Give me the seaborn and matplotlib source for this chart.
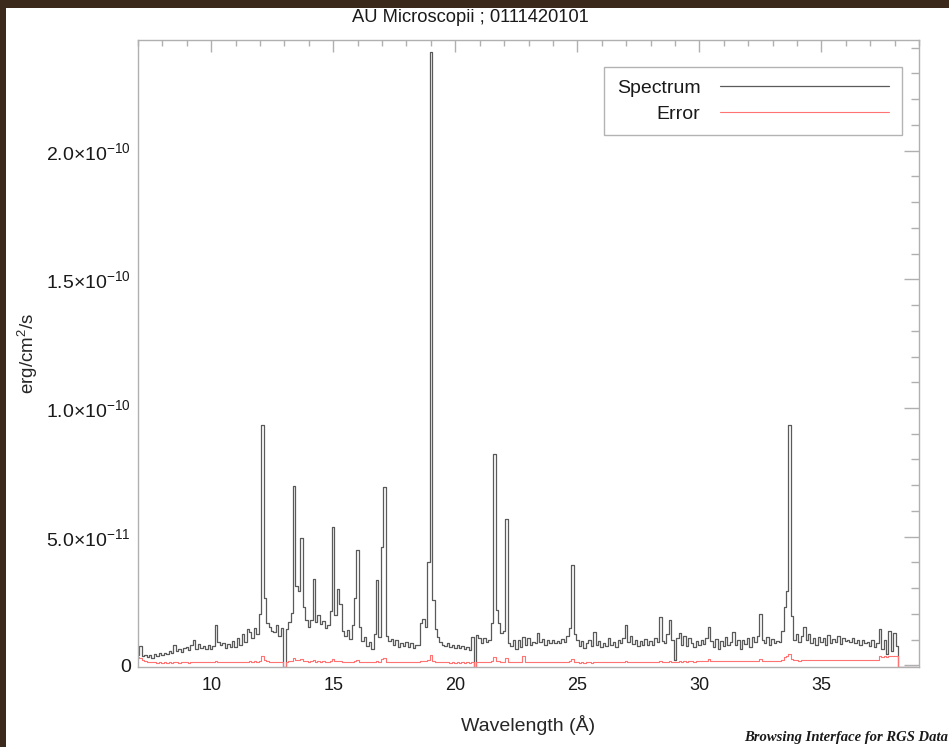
import numpy as np
import pandas as pd
import seaborn as sns
import matplotlib.pyplot as plt
from matplotlib.patches import Rectangle
from matplotlib.ticker import MultipleLocator, FuncFormatter

# RGS fluxed spectrum, 0.1 A bins starting at 7.0 A, units of 1e-12 erg/cm2/s
wave_start = 7.0
bin_width = 0.1
spectrum = [
    4.0, 7.5, 3.5, 4.2, 3.2, 4.0, 3.0, 4.4, 3.6, 4.8,        # 7
    4.0, 4.6, 4.3, 5.5, 4.8, 7.8, 5.6, 6.5, 5.0, 6.8,        # 8
    7.2, 5.8, 8.0, 9.8, 6.5, 8.2, 6.6, 7.6, 6.2, 7.8,        # 9
    6.4, 7.5, 15.5, 9.0, 7.8, 8.8, 6.6, 8.2, 7.0, 9.4,       # 10
    7.2, 10.8, 8.0, 12.2, 9.2, 14.0, 13.0, 10.6, 14.4, 12.0, # 11
    20.0, 93.4, 26.0, 16.5, 15.0, 13.5, 12.8, 15.8, 11.5, 14.6,  # 12
    -0.6, 14.0, 17.0, 20.5, 69.5, 31.0, 29.0, 49.5, 22.5, 17.5,  # 13
    15.0, 17.5, 33.5, 17.0, 19.5, 16.0, 17.2, 14.5, 15.8, 21.0,  # 14
    53.8, 19.5, 29.5, 24.0, 13.5, 11.5, 13.8, 10.2, 15.5, 26.0,  # 15
    44.7, 15.0, 9.5, 11.0, 7.5, 9.2, 6.5, 12.0, 33.0, 11.0,      # 16
    46.0, 69.4, 11.5, 9.5, 10.2, 8.0, 9.8, 7.2, 8.8, 7.5,        # 17
    9.0, 7.0, 8.5, 6.8, 7.8, 8.0, 16.5, 18.0, 15.0, 40.0,        # 18
    238.5, 25.5, 14.0, 11.0, 9.0, 8.0, 7.5, 8.5, 7.0, 7.8,       # 19
    6.6, 8.0, 6.8, 7.5, 6.2, 7.2, 6.0, 11.2, -0.6, 11.8,         # 20
    10.5, 8.5, 10.8, 9.0, 10.0, 16.5, 82.0, 21.5, 16.5, 12.5,    # 21
    13.5, 57.0, 8.5, 7.5, 10.0, 6.5, 9.8, 7.2, 11.2, 8.0,        # 22
    10.5, 7.8, 9.2, 8.5, 12.5, 9.0, 10.2, 8.0, 9.8, 8.8,         # 23
    10.0, 8.5, 9.5, 8.6, 10.2, 9.0, 11.5, 14.5, 39.0, 12.0,      # 24
    10.0, 7.5, 9.5, 6.8, 8.6, 10.0, 7.4, 12.8, 8.0, 9.4,         # 25
    7.0, 8.8, 7.5, 10.5, 8.0, 9.2, 7.2, 9.8, 8.5, 10.8,          # 26
    15.5, 9.0, 11.5, 8.2, 10.0, 7.5, 9.5, 8.0, 10.2, 7.8,        # 27
    9.5, 8.0, 10.5, 9.0, 18.8, 9.5, 8.5, 12.0, 17.5, 10.0,       # 28
    2.0, 10.5, 12.5, 8.0, 11.5, 7.5, 10.5, 8.8, 7.0, 9.5,        # 29
    7.8, 10.0, 8.2, 10.8, 15.0, 9.5, 7.0, 10.2, 6.2, 9.5,        # 30
    7.5, 11.0, 8.0, 9.2, 13.0, 7.8, 10.0, 6.5, 9.8, 8.2,         # 31
    10.5, 7.0, 11.2, 9.0, 11.5, 20.0, 10.0, 8.5, 11.0, 7.8,      # 32
    10.2, 8.5, 9.6, 9.0, 13.5, 22.5, 29.0, 93.4, 19.0, 10.0,     # 33
    12.0, 9.0, 11.5, 15.0, 10.0, 12.2, 8.5, 10.5, 8.0, 11.0,     # 34
    9.0, 10.8, 7.8, 11.8, 8.5, 10.2, 9.0, 11.5, 8.2, 10.5,       # 35
    9.5, 10.0, 9.2, 10.8, 8.5, 9.8, 8.0, 10.0, 8.8, 9.2,         # 36
    7.5, 9.8, 7.0, 8.5, 14.0, 6.5, 10.0, 4.5, 13.5, 5.5,         # 37
    12.5, 7.5, -0.6, -0.6, -0.6, -0.6, -0.6, -0.6, -0.6, -0.6,   # 38
]
error = [
    3.3, 2.8, 2.0, 1.6, 1.3, 1.2, 1.1, 1.1, 1.0, 1.1,   # 7
    1.0, 1.1, 1.0, 1.1, 1.0, 1.1, 1.1, 1.0, 1.1, 1.1,   # 8
    1.1, 1.0, 1.1, 1.2, 1.1, 1.1, 1.2, 1.1, 1.1, 1.2,   # 9
    1.1, 1.2, 1.7, 1.2, 1.1, 1.2, 1.1, 1.2, 1.1, 1.2,   # 10
    1.1, 1.3, 1.2, 1.4, 1.2, 1.2, 1.5, 1.3, 1.5, 1.4,   # 11
    1.8, 3.8, 2.0, 1.5, 1.4, 1.3, 1.3, 1.4, 1.3, 1.4,   # 12
    -0.6, 1.4, 1.6, 1.8, 2.8, 2.1, 2.0, 2.4, 1.7, 1.5,  # 13
    1.4, 1.5, 2.0, 1.4, 1.5, 1.4, 1.5, 1.4, 1.4, 1.6,   # 14
    2.4, 1.6, 1.8, 1.7, 1.3, 1.2, 1.3, 1.2, 1.4, 1.7,   # 15
    2.2, 1.4, 1.2, 1.2, 1.1, 1.2, 1.1, 1.3, 1.8, 1.3,   # 16
    2.4, 2.8, 1.3, 1.2, 1.2, 1.1, 1.2, 1.1, 1.2, 1.1,   # 17
    1.2, 1.1, 1.2, 1.1, 1.1, 1.2, 1.6, 1.6, 1.5, 2.2,   # 18
    4.2, 1.8, 1.4, 1.3, 1.2, 1.1, 1.1, 1.1, 1.0, 1.1,   # 19
    1.0, 1.1, 1.0, 1.1, 1.0, 1.1, 1.0, 1.2, -0.6, 1.3,  # 20
    1.3, 1.1, 1.2, 1.1, 1.2, 1.5, 3.4, 1.7, 1.5, 1.3,   # 21
    1.3, 3.0, 1.2, 1.1, 1.2, 1.1, 1.3, 1.2, 3.8, 1.2,   # 22
    1.2, 1.1, 1.2, 1.1, 1.4, 1.2, 1.2, 1.1, 1.2, 1.1,   # 23
    1.2, 1.1, 1.2, 1.1, 1.2, 1.2, 1.3, 1.5, 2.3, 1.3,   # 24
    1.1, 1.0, 1.1, 1.0, 1.1, 1.1, 1.0, 1.2, 1.1, 1.1,   # 25
    1.1, 1.2, 1.1, 1.2, 1.1, 1.2, 1.1, 1.2, 1.2, 1.3,   # 26
    1.5, 1.2, 1.3, 1.2, 1.3, 1.2, 1.3, 1.2, 1.3, 1.2,   # 27
    1.3, 1.2, 1.3, 1.3, 1.6, 1.3, 1.3, 1.4, 1.6, 1.3,   # 28
    1.4, 1.4, 1.5, 1.4, 1.5, 1.4, 1.5, 1.5, 1.4, 1.5,   # 29
    1.5, 1.5, 1.5, 1.6, 2.4, 1.6, 1.5, 1.6, 1.5, 1.6,   # 30
    1.6, 1.7, 1.6, 1.6, 1.8, 1.6, 1.7, 1.6, 1.7, 1.6,   # 31
    1.7, 1.6, 1.7, 1.7, 1.7, 2.3, 1.7, 1.7, 1.8, 1.7,   # 32
    1.8, 1.7, 1.8, 1.8, 2.0, 3.3, 3.8, 4.5, 2.6, 1.9,   # 33
    1.9, 1.8, 1.9, 2.1, 1.9, 2.0, 1.9, 1.9, 2.0, 1.9,   # 34
    1.9, 2.0, 1.9, 2.0, 1.9, 2.0, 2.0, 2.1, 1.9, 2.0,   # 35
    2.0, 2.0, 2.1, 2.0, 2.1, 2.0, 2.0, 2.1, 2.0, 2.1,   # 36
    2.1, 2.0, 2.2, 2.2, 3.6, 3.4, 3.5, 3.4, 3.7, 3.5,   # 37
    3.6, 3.5, -0.6, -0.6, -0.6, -0.6, -0.6, -0.6, -0.6, -0.6,  # 38
]
flux_unit = 1e-12

wave = np.round(wave_start + bin_width * np.arange(len(spectrum)), 2)
df = pd.DataFrame({'wave': wave,
                   'Spectrum': np.array(spectrum) * flux_unit,
                   'Error': np.array(error) * flux_unit})

sns.set_style('white')
plt.rcParams['font.family'] = ['Liberation Sans', 'DejaVu Sans']
plt.rcParams['text.color'] = '#1a1a1a'

fig = plt.figure(figsize=(9.49, 7.47), dpi=100)
fig.patch.set_facecolor('#3b2a1c')
# white page inside the wooden frame
fig.patches.append(Rectangle((6 / 949, 0), 1, (747 - 8) / 747, transform=fig.transFigure,
                             facecolor='white', edgecolor='none', zorder=-10))

ax = fig.add_axes([138 / 949, 80 / 747, 781 / 949, 627 / 747])
ax.set_facecolor('white')

sns.lineplot(data=df, x='wave', y='Spectrum', ax=ax, drawstyle='steps-mid',
             color='#5a5a5a', linewidth=0.9, label='Spectrum')
sns.lineplot(data=df, x='wave', y='Error', ax=ax, drawstyle='steps-mid',
             color='#ff7373', linewidth=0.8, label='Error')

ax.set_xlim(7, 39)
ax.set_ylim(-0.65e-12, 2.43e-10)

ax.xaxis.set_major_locator(MultipleLocator(5))
ax.xaxis.set_minor_locator(MultipleLocator(1))
ax.yaxis.set_major_locator(MultipleLocator(5e-11))
ax.yaxis.set_minor_locator(MultipleLocator(1e-11))


def sci_fmt(v, pos):
    if abs(v) < 1e-20:
        return '0'
    e = int(np.floor(np.log10(abs(v))))
    m = v / 10 ** e
    return r'$\mathregular{%.1f{\times}10^{%d}}$' % (m, e)


ax.yaxis.set_major_formatter(FuncFormatter(sci_fmt))

grey = '#b0b0b0'
for s in ax.spines.values():
    s.set_color(grey)
    s.set_linewidth(1.0)
ax.tick_params(which='both', direction='in', top=True, right=True, color=grey, width=1.0,
               labelsize=13, labelcolor='#1a1a1a')
ax.tick_params(axis='x', which='major', length=8.6, pad=7)
ax.tick_params(axis='x', which='minor', length=4.3)
ax.tick_params(axis='y', which='major', length=11, pad=5, labelsize=14)
ax.tick_params(axis='y', which='minor', length=5.5)

ax.set_xlabel('Wavelength (Å)', fontsize=14)
ax.xaxis.set_label_coords(0.5, -0.077)
ax.set_ylabel(r'erg/cm$\mathregular{^2}$/s', fontsize=13.5)
ax.yaxis.set_label_coords(-0.126, 0.5)

leg = ax.legend(loc='upper right', bbox_to_anchor=(0.978, 0.957), borderaxespad=0,
                markerfirst=False, frameon=True, fancybox=False, fontsize=14,
                handlelength=8.7, handletextpad=1.0, labelspacing=0.4, borderpad=0.65)
leg.get_frame().set_edgecolor('#a0a0a0')
leg.get_frame().set_linewidth(1.0)

fig.text(470 / 949, (747 - 18) / 747, 'AU Microscopii ; 0111420101', ha='center', va='center',
         fontsize=13.2)
fig.text(744 / 949, (747 - 737) / 747, 'Browsing Interface for RGS Data', ha='left', va='center',
         fontsize=10.5, family='Liberation Serif', style='italic', weight='bold')

fig.savefig('out.png', dpi=100, facecolor=fig.get_facecolor())
